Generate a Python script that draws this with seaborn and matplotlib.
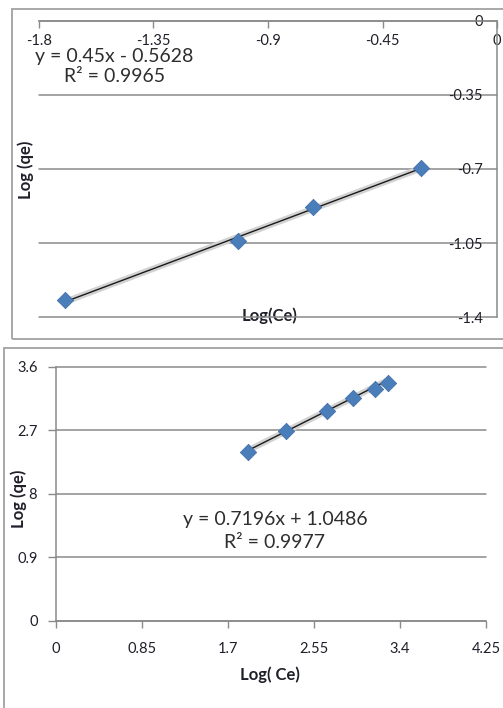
import numpy as np
import pandas as pd
import matplotlib
matplotlib.use("Agg")
import matplotlib.pyplot as plt
import seaborn as sns
from matplotlib.patches import Rectangle

# ---------------- data ----------------
# top panel (negative logs)
top_log_ce = [-1.697, -1.016, -0.723, -0.300]
top_log_qe = [-1.318, -1.038, -0.878, -0.697]
top_slope, top_intercept = 0.45, -0.5628
top_equation = "y = 0.45x - 0.5628\nR\u00b2 = 0.9965"
top_xticks = [-1.8, -1.35, -0.9, -0.45, 0]
top_xticklabels = ["-1.8", "-1.35", "-0.9", "-0.45", "0"]
top_yticks = [0, -0.35, -0.7, -1.05, -1.4]
top_yticklabels = ["0", "-0.35", "-0.7", "-1.05", "-1.4"]

# bottom panel
bot_log_ce = [1.900, 2.273, 2.681, 2.938, 3.152, 3.277]
bot_log_qe = [2.389, 2.695, 2.979, 3.154, 3.286, 3.375]
bot_slope, bot_intercept = 0.7196, 1.0486
bot_equation = "y = 0.7196x + 1.0486\nR\u00b2 = 0.9977"
bot_xticks = [0, 0.85, 1.7, 2.55, 3.4, 4.25]
bot_xticklabels = ["0", "0.85", "1.7", "2.55", "3.4", "4.25"]
bot_yticks = [0, 0.9, 1.8, 2.7, 3.6]
bot_yticklabels = ["0", "0.9", "1.8", "2.7", "3.6"]

x_title_top = "Log(Ce)"
x_title_bot = "Log( Ce)"
y_title = "Log (qe)"

# ---------------- style ----------------
sns.set_theme(style="white")
plt.rcParams["font.family"] = ["Lato", "DejaVu Sans"]

W, H = 503, 708
GRID = "#8a8a8a"
FRAME = "#a8a8a8"
TXT = "#1f1f2a"
BLUE = "#4A7EBB"
TICK_FS = 10.5
EQ_FS = 14
TITLE_FS = 12

fig = plt.figure(figsize=(W / 100, H / 100), dpi=100)
fig.patch.set_facecolor("white")

def px_axes(x0, y0, x1, y1):
    return fig.add_axes([x0 / W, 1 - y1 / H, (x1 - x0) / W, (y1 - y0) / H])

# outer frames
for (fx0, fy0, fx1, fy1) in [(12, 9, 515, 339), (4, 348, 515, 720)]:
    fig.add_artist(Rectangle((fx0 / W, 1 - fy1 / H), (fx1 - fx0) / W, (fy1 - fy0) / H,
                             transform=fig.transFigure, fill=False, ec=FRAME, lw=1.4))

def trend(ax, xs, slope, intercept):
    xf = np.array([min(xs), max(xs)])
    df = pd.DataFrame({"x": xf, "y": slope * xf + intercept})
    sns.lineplot(data=df, x="x", y="y", ax=ax, color="#d2d2d2", lw=4.5, zorder=2)
    sns.lineplot(data=df, x="x", y="y", ax=ax, color="#1a1a1a", lw=1.0, zorder=3)

def points(ax, xs, ys):
    sns.scatterplot(x=xs, y=ys, ax=ax, marker="D", s=70, color=BLUE,
                    edgecolor="#3b6aa5", linewidth=0.5, zorder=4)

# ---------------- top panel ----------------
ax1 = px_axes(39, 20.7, 497, 317.3)
trend(ax1, top_log_ce, top_slope, top_intercept)
points(ax1, top_log_ce, top_log_qe)
ax1.set_xlim(-1.8, 0)
ax1.set_ylim(-1.4, 0)
ax1.set_xticks(top_xticks)
ax1.set_xticklabels(top_xticklabels)
ax1.set_yticks(top_yticks)
ax1.set_yticklabels(top_yticklabels)
ax1.tick_params(axis="x", bottom=False, labelbottom=False, top=True, labeltop=True,
                direction="in", length=5, width=1, color=GRID, pad=-9.5,
                labelsize=TICK_FS, labelcolor=TXT)
ax1.tick_params(axis="y", left=False, labelleft=False, right=True, labelright=True,
                direction="in", length=0, pad=-10, labelsize=TICK_FS, labelcolor=TXT)
for lbl in ax1.get_xticklabels():
    lbl.set_va("top")
for lbl in ax1.get_yticklabels():
    lbl.set_ha("right")
ax1.yaxis.grid(True, color=GRID, lw=1.1)
ax1.xaxis.grid(False)
for gl in ax1.get_ygridlines():
    gl.set_clip_on(False)
for s in ["left", "bottom"]:
    ax1.spines[s].set_visible(False)
for s in ["top", "right"]:
    ax1.spines[s].set_visible(True)
    ax1.spines[s].set_color(GRID)
    ax1.spines[s].set_linewidth(1.1)
ax1.set_facecolor("none")
ax1.set_xlabel(x_title_top, fontsize=TITLE_FS, fontweight="bold", color=TXT)
ax1.xaxis.set_label_position("bottom")
ax1.xaxis.set_label_coords(0.504, 0.034)
ax1.set_ylabel(y_title, fontsize=TITLE_FS, fontweight="bold", color=TXT)
ax1.yaxis.set_label_position("left")
ax1.yaxis.set_label_coords(-0.012, 0.497)
ax1.text(0.164, 0.845, top_equation, transform=ax1.transAxes, ha="center", va="center",
         multialignment="center", fontsize=EQ_FS, color="#2e2e2e", linespacing=1.2)

# ---------------- bottom panel ----------------
ax2 = px_axes(56, 366.7, 486, 621)
trend(ax2, bot_log_ce, bot_slope, bot_intercept)
points(ax2, bot_log_ce, bot_log_qe)
ax2.set_xlim(0, 4.25)
ax2.set_ylim(0, 3.6)
ax2.set_xticks(bot_xticks)
ax2.set_xticklabels(bot_xticklabels)
ax2.set_yticks(bot_yticks)
ax2.set_yticklabels(bot_yticklabels)
ax2.tick_params(axis="x", bottom=True, direction="out", length=5, width=1, color=GRID,
                pad=10, labelsize=TICK_FS, labelcolor=TXT)
ax2.tick_params(axis="y", left=True, direction="out", length=6, width=1, color=GRID,
                pad=7, labelsize=TICK_FS, labelcolor=TXT)
ax2.yaxis.grid(True, color=GRID, lw=1.1)
ax2.xaxis.grid(False)
for gl in ax2.get_ygridlines():
    gl.set_clip_on(False)
for s in ["top", "right"]:
    ax2.spines[s].set_visible(False)
for s in ["left", "bottom"]:
    ax2.spines[s].set_visible(True)
    ax2.spines[s].set_color(GRID)
    ax2.spines[s].set_linewidth(1.1)
ax2.set_facecolor("none")
ax2.set_xlabel(x_title_bot, fontsize=TITLE_FS, fontweight="bold", color=TXT)
ax2.xaxis.set_label_coords(0.498, -0.178)
ax2.set_ylabel(y_title, fontsize=TITLE_FS, fontweight="bold", color=TXT,
               bbox=dict(facecolor="white", edgecolor="none", pad=0.5))
ax2.yaxis.set_label_coords(-0.067, 0.48)
ax2.yaxis.label.set_zorder(10)
ax2.text(0.509, 0.354, bot_equation, transform=ax2.transAxes, ha="center", va="center",
         multialignment="center", fontsize=EQ_FS, color="#2e2e2e", linespacing=1.45)

fig.savefig("out.png", dpi=100, facecolor="white")
